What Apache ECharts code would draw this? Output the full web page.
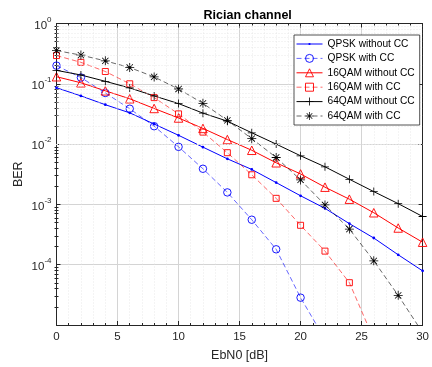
<!DOCTYPE html>
<html>
<head>
<meta charset="utf-8">
<script src="https://cdn.jsdelivr.net/npm/echarts@6/dist/echarts.min.js"></script>
<style>
  html, body { margin: 0; padding: 0; background: #fff; }
  #chart { width: 432px; height: 367px; }
</style>
</head>
<body>
<div id="chart"></div>
<script>
// Eb/N0 sweep (dB) and measured bit error rates per modulation scheme
const ebn0 = [0, 2, 4, 6, 8, 10, 12, 14, 16, 18, 20, 22, 24, 26, 28, 30];

const qpskNoCC  = [0.086, 0.063, 0.045, 0.033, 0.0215, 0.014, 0.0089, 0.0057, 0.0038, 0.0023, 0.00139, 0.00086, 0.00048, 0.000277, 0.000146, 0.000079];
const qpskCC    = [0.2, 0.127, 0.0705, 0.0386, 0.0198, 0.009, 0.0039, 0.00158, 0.000557, 0.00018, 0.0000284, 0.0000058];
const qam16NoCC = [0.131, 0.104, 0.0765, 0.0565, 0.039, 0.0271, 0.0182, 0.0119, 0.0079, 0.0049, 0.0032, 0.00193, 0.00122, 0.000727, 0.000406, 0.000236];
const qam16CC   = [0.294, 0.227, 0.16, 0.1, 0.059, 0.0317, 0.0158, 0.0072, 0.0031, 0.00126, 0.00045, 0.000168, 0.0000503, 0.0000058];
const qam64NoCC = [0.167, 0.14, 0.11, 0.0853, 0.063, 0.047, 0.0326, 0.024, 0.0154, 0.01, 0.0064, 0.0042, 0.00261, 0.00163, 0.00103, 0.00063];
const qam64CC   = [0.356, 0.299, 0.24, 0.186, 0.13, 0.082, 0.0474, 0.0248, 0.0123, 0.006, 0.00255, 0.00098, 0.00039, 0.000116, 0.000031, 0.0000075];

const seriesNames = ['QPSK without CC', 'QPSK with CC', '16QAM without CC', '16QAM with CC', '64QAM without CC', '64QAM with CC'];

// axis ranges and ticks
const xMin = 0, xMax = 30, xStep = 5;
const yMin = 1e-5, yMax = 1;

const FONT = '"Liberation Sans", Arial, Helvetica, sans-serif';
const AX = '#262626';
const GRID_MAJOR = '#d4d4d4';
const GRID_MINOR = '#e2e2e2';

// minor log positions (2..9 per decade)
const minorVals = [];
for (let d = -5; d < 0; d++) {
  for (let m = 2; m <= 9; m++) minorVals.push(m * Math.pow(10, d));
}

// marker shapes
const dotPath  = 'path://M0,0h0.01v0.01h-0.01z M9.99,9.99h0.01v0.01h-0.01z M3.6,5a1.4,1.4 0 1,0 2.8,0a1.4,1.4 0 1,0 -2.8,0z';
const plusPath = 'path://M4.5,0h1v4.5h4.5v1h-4.5v4.5h-1v-4.5h-4.5v-1h4.5z';
const starPath = 'path://M4.55,0h0.9v10h-0.9z M0,4.55h10v0.9h-10z M1.82,1.18L8.82,8.18L8.18,8.82L1.18,1.82Z M8.82,1.82L1.82,8.82L1.18,8.18L8.18,1.18Z';

const pairs = ys => ys.map((y, i) => [ebn0[i], y]);

function curve(name, ys, color, dashed, symbol, size, hollow) {
  return {
    name, type: 'line', data: pairs(ys),
    xAxisIndex: 0, yAxisIndex: 0,
    clip: true, z: 3,
    showAllSymbol: true,
    symbol, symbolSize: size,
    lineStyle: { color, width: dashed ? 0.6 : 1, type: dashed ? [5, 3] : 'solid' },
    itemStyle: hollow
      ? { color: 'transparent', borderColor: color, borderWidth: 0.9 }
      : { color, borderWidth: 0 },
    emphasis: { disabled: true },
    animation: false
  };
}

const xCommon = {
  type: 'value', min: xMin, max: xMax, interval: xStep,
  axisLine: { show: true, onZero: false, lineStyle: { color: AX, width: 1 } },
  axisTick: { show: true, inside: true, length: 4, lineStyle: { color: AX } },
  minorTick: { show: true, splitNumber: 5, length: 2, lineStyle: { color: AX } }
};

const yCommon = {
  type: 'log', logBase: 10, min: yMin, max: yMax,
  axisLine: { show: true, onZero: false, lineStyle: { color: AX, width: 1 } },
  axisTick: { show: true, inside: true, length: 4, lineStyle: { color: AX } }
};

const yMinorTicks = {
  type: 'log', logBase: 10, min: yMin, max: yMax,
  axisLine: { show: false },
  axisLabel: { show: false },
  splitLine: { show: false },
  axisTick: { show: true, inside: true, length: 2, customValues: minorVals, lineStyle: { color: AX } }
};

const option = {
  animation: false,
  backgroundColor: '#fff',
  title: {
    text: 'Rician channel',
    left: 242.7, textAlign: 'center', top: 4,
    textStyle: { fontSize: 12.5, fontWeight: 'bold', color: '#000', fontFamily: FONT }
  },
  grid: { left: 56.5, right: 3, top: 23.5, bottom: 41.3, show: false },
  legend: {
    orient: 'vertical', left: 294, top: 35,
    data: seriesNames,
    itemWidth: 26, itemHeight: 10, itemGap: 4.4,
    padding: [4, 5, 4, 2],
    backgroundColor: '#fff', borderColor: AX, borderWidth: 0.8,
    textStyle: { fontSize: 10.2, fontFamily: FONT, color: '#000' },
    lineStyle: { width: 'inherit' },
    itemStyle: { borderWidth: 'inherit' },
    selectedMode: false, z: 10
  },
  xAxis: [
    Object.assign({}, xCommon, {
      position: 'bottom',
      axisLabel: { color: AX, fontSize: 11.5, fontFamily: FONT, margin: 6 },
      splitLine: { show: true, lineStyle: { color: GRID_MAJOR, width: 1 } },
      minorSplitLine: { show: true, lineStyle: { color: GRID_MINOR, width: 0.8, type: [1, 2] } },
      name: 'EbN0 [dB]', nameLocation: 'middle', nameGap: 24,
      nameTextStyle: { fontSize: 12.5, fontFamily: FONT, color: AX }
    }),
    Object.assign({}, xCommon, {
      position: 'top',
      axisLabel: { show: false },
      splitLine: { show: false }
    })
  ],
  yAxis: [
    Object.assign({}, yCommon, {
      position: 'left',
      axisLabel: {
        margin: 5,
        formatter: v => {
          const e = Math.round(Math.log10(v));
          return e <= -5 ? '' : '{b|10}{e|' + e + '}';
        },
        rich: {
          b: { fontSize: 11.5, color: AX, fontFamily: FONT, padding: [4, 0, 0, 0] },
          e: { fontSize: 8, color: AX, fontFamily: FONT, verticalAlign: 'top' }
        }
      },
      splitLine: { show: true, lineStyle: { color: GRID_MAJOR, width: 1 } },
      name: 'BER', nameLocation: 'middle', nameGap: 31, nameMoveOverlap: false,
      nameTextStyle: { fontSize: 12.5, fontFamily: FONT, color: AX }
    }),
    Object.assign({}, yCommon, {
      position: 'right',
      axisLabel: { show: false },
      splitLine: { show: false }
    }),
    Object.assign({}, yMinorTicks, { position: 'left' }),
    Object.assign({}, yMinorTicks, { position: 'right' })
  ],
  series: [
    {
      // minor horizontal grid at 2..9 of each decade
      type: 'line', data: [], silent: true, z: 1,
      xAxisIndex: 0, yAxisIndex: 0,
      markLine: {
        silent: true, animation: false,
        symbol: ['none', 'none'],
        label: { show: false },
        lineStyle: { color: GRID_MINOR, width: 0.8, type: [1, 2] },
        emphasis: { disabled: true },
        data: minorVals.map(v => ({ yAxis: v }))
      }
    },
    curve(seriesNames[0], qpskNoCC,  '#0000ff', false, dotPath,    10,  false),
    curve(seriesNames[1], qpskCC,    '#0000ff', true,  'circle',   7.5, true),
    curve(seriesNames[2], qam16NoCC, '#ff0000', false, 'triangle', 8.5, true),
    curve(seriesNames[3], qam16CC,   '#ff0000', true,  'rect',     6,   true),
    curve(seriesNames[4], qam64NoCC, '#000000', false, plusPath,   8,   false),
    curve(seriesNames[5], qam64CC,   '#000000', true,  starPath,   9,   false)
  ]
};

const chart = echarts.init(document.getElementById('chart'), null, { renderer: 'canvas' });
chart.setOption(option);
</script>
</body>
</html>
